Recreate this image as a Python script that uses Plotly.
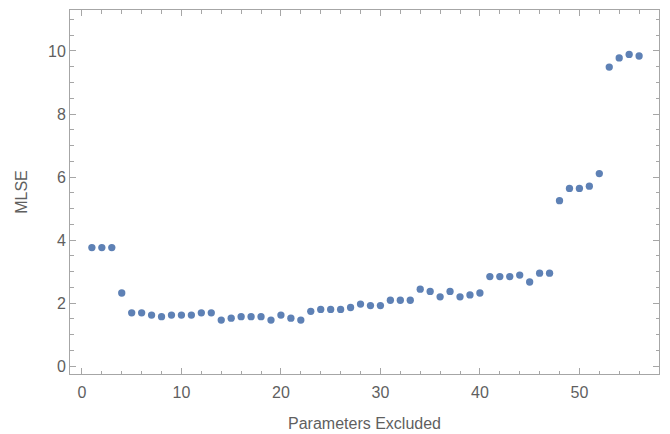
import plotly.graph_objects as go

params_excluded = list(range(1, 57))
mlse = [3.76, 3.76, 3.76, 2.32, 1.69, 1.69, 1.62, 1.57, 1.62, 1.62,
        1.62, 1.69, 1.69, 1.46, 1.52, 1.57, 1.57, 1.57, 1.46, 1.62,
        1.52, 1.46, 1.74, 1.80, 1.80, 1.80, 1.86, 1.97, 1.92, 1.92,
        2.09, 2.09, 2.09, 2.44, 2.37, 2.20, 2.37, 2.20, 2.26, 2.32,
        2.84, 2.84, 2.84, 2.89, 2.67, 2.95, 2.95, 5.25, 5.64, 5.64,
        5.71, 6.11, 9.49, 9.78, 9.89, 9.84]

frame = "#a6a6a6"
txt = "#5f5f5f"
fnt = "Liberation Sans, Arial, sans-serif"

fig = go.Figure(go.Scatter(
    x=params_excluded, y=mlse, mode="markers",
    marker=dict(color="#5E81B5", size=7.3),
))

axis_common = dict(
    showgrid=False, zeroline=False, showline=True, linecolor=frame, linewidth=1,
    mirror="allticks", ticks="inside", tickcolor=frame, ticklen=6, tickwidth=1,
    tickfont=dict(size=16, color=txt, family=fnt), automargin=False,
)

fig.update_xaxes(
    range=[-1.2, 58.0], tick0=0, dtick=10,
    minor=dict(ticks="inside", dtick=2, ticklen=3.5, tickcolor=frame),
    title=dict(text="Parameters Excluded", font=dict(size=16, color=txt, family=fnt), standoff=17),
    ticklabelstandoff=4,
    **axis_common,
)
fig.update_yaxes(
    range=[-0.25, 11.3], tick0=0, dtick=2,
    minor=dict(ticks="inside", dtick=0.5, ticklen=3.5, tickcolor=frame),
    title=dict(text="MLSE", font=dict(size=16, color=txt, family=fnt), standoff=16),
    **axis_common,
)

fig.update_layout(
    width=662, height=426,
    margin=dict(l=62, r=11, t=2, b=60),
    plot_bgcolor="white", paper_bgcolor="white",
    showlegend=False,
    font=dict(family=fnt),
)

fig.write_html("out.html")
